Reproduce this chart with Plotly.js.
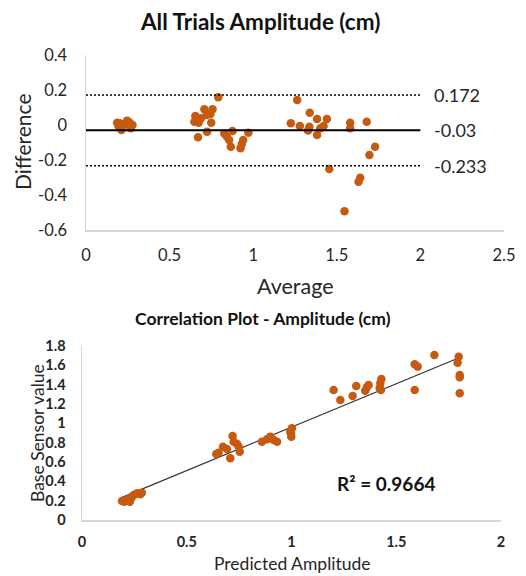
<!DOCTYPE html>
<html>
<head>
<meta charset="utf-8">
<script src="https://cdn.plot.ly/plotly-3.0.1.min.js"></script>
<style>
  html, body { margin: 0; padding: 0; background: #fff; }
  #chart { width: 526px; height: 576px; }
</style>
</head>
<body>
<div id="chart"></div>
<script>
// ---- Bland-Altman data (top chart) ----
const avgValues = [0.186, 0.194, 0.202, 0.212, 0.226, 0.246, 0.254, 0.262, 0.268, 0.278,
  0.654, 0.648, 0.674, 0.670, 0.688, 0.708, 0.722, 0.724, 0.744, 0.749, 0.757, 0.791,
  0.827, 0.843, 0.856, 0.866, 0.876, 0.924, 0.932, 0.940, 0.971,
  1.225, 1.263, 1.279, 1.328, 1.336, 1.338, 1.382, 1.382, 1.402, 1.421, 1.441, 1.455,
  1.546, 1.580, 1.580, 1.630, 1.640, 1.679, 1.695, 1.729];
const diffValues = [0.013, -0.006, 0.010, -0.029, 0.000, 0.025, 0.006, 0.013, -0.019, 0.000,
  0.051, 0.019, 0.013, -0.070, 0.038, 0.090, 0.057, -0.038, 0.063, 0.013, 0.090, 0.158,
  -0.048, -0.067, -0.086, -0.124, -0.034, -0.133, -0.109, -0.086, -0.044,
  0.010, 0.143, -0.006, -0.032, -0.010, 0.070, -0.057, 0.034, -0.019, -0.006, 0.034, -0.251,
  -0.493, 0.013, -0.019, -0.324, -0.301, 0.019, -0.171, -0.124];
const limitValues = [0.172, -0.03, -0.233];
const limitLabels = ['0.172', '-0.03', '-0.233'];
const topXTicks = [0, 0.5, 1, 1.5, 2, 2.5];
const topXTickText = ['0', '0.5', '1', '1.5', '2', '2.5'];
const topYTicks = [-0.6, -0.4, -0.2, 0, 0.2, 0.4];
const topYTickText = ['-0.6', '-0.4', '-0.2', '0', '0.2', '0.4'];

// ---- Correlation data (bottom chart) ----
const predicted = [0.191, 0.202, 0.215, 0.228, 0.234, 0.239, 0.247, 0.263, 0.278, 0.286,
  0.641, 0.652, 0.673, 0.692, 0.708, 0.719, 0.724, 0.740, 0.748, 0.753,
  0.859, 0.883, 0.899, 0.915, 0.931, 0.994, 0.998, 0.999, 1.002,
  1.201, 1.233, 1.292, 1.309, 1.352, 1.360, 1.368, 1.421, 1.424, 1.427, 1.429,
  1.588, 1.588, 1.602, 1.682, 1.798, 1.793, 1.803, 1.803, 1.803];
const baseSensor = [0.196, 0.189, 0.213, 0.189, 0.224, 0.241, 0.258, 0.275, 0.265, 0.282,
  0.682, 0.695, 0.757, 0.733, 0.637, 0.867, 0.809, 0.785, 0.757, 0.706,
  0.809, 0.833, 0.861, 0.826, 0.809, 0.912, 0.895, 0.861, 0.947,
  1.343, 1.239, 1.281, 1.384, 1.336, 1.370, 1.394, 1.360, 1.411, 1.343, 1.456,
  1.343, 1.608, 1.584, 1.704, 1.687, 1.625, 1.497, 1.473, 1.308];
const r2Text = 'R² = 0.9664';
const botXTicks = [0, 0.5, 1, 1.5, 2];
const botXTickText = ['0', '0.5', '1', '1.5', '2'];
const botYTicks = [0, 0.2, 0.4, 0.6, 0.8, 1, 1.2, 1.4, 1.6, 1.8];
const botYTickText = ['0', '0.2', '0.4', '0.6', '0.8', '1', '1.2', '1.4', '1.6', '1.8'];

// ---- least-squares trendline (as Excel computes it) ----
const n = predicted.length;
const mx = predicted.reduce((a, b) => a + b, 0) / n;
const my = baseSensor.reduce((a, b) => a + b, 0) / n;
let sxy = 0, sxx = 0;
for (let i = 0; i < n; i++) { sxy += (predicted[i] - mx) * (baseSensor[i] - my); sxx += (predicted[i] - mx) ** 2; }
const slope = sxy / sxx, intercept = my - slope * mx;
const xmin = Math.min(...predicted), xmax = Math.max(...predicted);

const W = 526, H = 576;
const px = v => v / W, py = v => 1 - v / H;
const FONT = 'Lato, "Open Sans", sans-serif';
const dotColor = '#c55a11';
const txt = '#262626';
const axisLine = '#d6d6d6';

const traces = [
  { x: avgValues, y: diffValues, type: 'scatter', mode: 'markers', xaxis: 'x', yaxis: 'y',
    marker: { color: dotColor, size: 8.5 } },
  { x: [xmin, xmax], y: [intercept + slope * xmin, intercept + slope * xmax], type: 'scatter', mode: 'lines',
    xaxis: 'x2', yaxis: 'y2', line: { color: '#333333', width: 1.2 } },
  { x: predicted, y: baseSensor, type: 'scatter', mode: 'markers', xaxis: 'x2', yaxis: 'y2',
    marker: { color: dotColor, size: 8.5 } }
];

const shapes = limitValues.map((v, i) => ({
  type: 'line', xref: 'x', yref: 'y', x0: 0, x1: 2, y0: v, y1: v,
  line: i === 1 ? { color: '#000', width: 2 } : { color: '#000', width: 1.5, dash: '2px,2px' }
}));

function paperText(text, x, y, size, extra) {
  return Object.assign({ text: text, xref: 'paper', yref: 'paper', x: px(x), y: py(y),
    xanchor: 'center', yanchor: 'middle', showarrow: false,
    font: { family: FONT, size: size, color: txt } }, extra || {});
}

const annotations = [
  paperText('<b>All Trials Amplitude (cm)</b>', 260, 21, 22.5, { font: { family: FONT, size: 22.5, color: '#111' } }),
  paperText('Difference', 22, 142, 21, { textangle: -90 }),
  paperText('Average', 295, 286, 21.5),
  paperText('<b>Correlation Plot - Amplitude (cm)</b>', 263, 318, 17.5, { font: { family: FONT, size: 17.5, color: '#111' } }),
  paperText('Base Sensor value', 37, 433, 17.5, { textangle: -90 }),
  paperText('Predicted Amplitude', 292, 563, 17.5),
  { text: '<b>' + r2Text + '</b>', xref: 'x2', yref: 'y2', x: 1.45, y: 0.38, xanchor: 'center', yanchor: 'middle',
    showarrow: false, font: { family: FONT, size: 19, color: '#111' } }
].concat(limitValues.map((v, i) => ({
  text: limitLabels[i], xref: 'x', yref: 'y', x: 2.07, y: v, xanchor: 'left', yanchor: 'middle',
  showarrow: false, font: { family: FONT, size: 18, color: txt }
})));

const axisCommon = {
  showgrid: false, zeroline: false, showline: true, linecolor: axisLine, linewidth: 1.5,
  ticks: '', tickmode: 'array', automargin: false, fixedrange: true
};

const layout = {
  width: W, height: H, margin: { l: 0, r: 0, t: 0, b: 0 },
  paper_bgcolor: '#fff', plot_bgcolor: '#fff', showlegend: false,
  font: { family: FONT, color: txt },
  xaxis: Object.assign({}, axisCommon, { domain: [px(86), px(504)], range: [0, 2.5],
    tickvals: topXTicks, ticktext: topXTickText, anchor: 'y', ticklabelstandoff: 10,
    tickfont: { family: FONT, size: 16.5, color: txt } }),
  yaxis: Object.assign({}, axisCommon, { domain: [1 - 230 / H, 1 - 55 / H], range: [-0.6, 0.4],
    tickvals: topYTicks, ticktext: topYTickText, anchor: 'x', ticklabelstandoff: 14,
    tickfont: { family: FONT, size: 16.5, color: txt } }),
  xaxis2: Object.assign({}, axisCommon, { domain: [px(82), px(501)], range: [0, 2],
    tickvals: botXTicks, ticktext: botXTickText, anchor: 'y2', ticklabelstandoff: 8,
    tickfont: { family: FONT, size: 14.5, color: txt, weight: 'bold' } }),
  yaxis2: Object.assign({}, axisCommon, { domain: [1 - 520 / H, 1 - 345.7 / H], range: [0, 1.8],
    tickvals: botYTicks, ticktext: botYTickText, anchor: 'x2', ticklabelstandoff: 12,
    tickfont: { family: FONT, size: 14.5, color: txt, weight: 'bold' } }),
  shapes: shapes,
  annotations: annotations
};

Plotly.newPlot('chart', traces, layout, { staticPlot: true, displayModeBar: false });
</script>
</body>
</html>
